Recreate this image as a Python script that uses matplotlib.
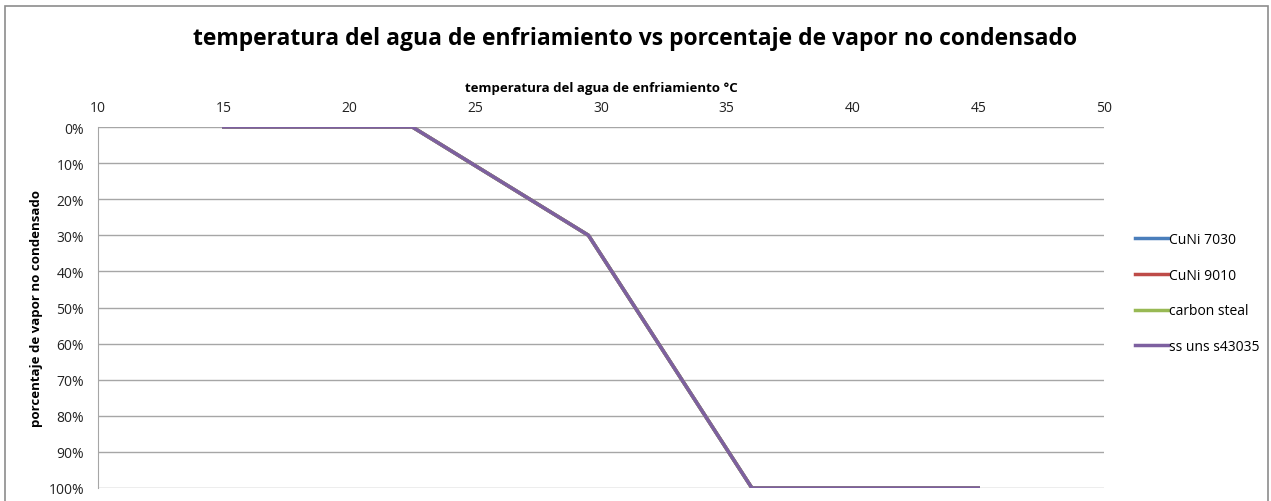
import matplotlib
matplotlib.use("Agg")
import matplotlib.pyplot as plt
from matplotlib.patches import Rectangle
from matplotlib.ticker import PercentFormatter

plt.rcParams['font.family'] = ['Open Sans', 'DejaVu Sans']

# data
temperatura = [15, 22.5, 29.5, 36, 45]
cuni_7030 = [0.0, 0.0, 0.30, 1.0, 1.0]
cuni_9010 = [0.0, 0.0, 0.30, 1.0, 1.0]
carbon_steal = [0.0, 0.0, 0.30, 1.0, 1.0]
ss_uns_s43035 = [0.0, 0.0, 0.30, 1.0, 1.0]

series = [
    ("CuNi 7030", cuni_7030, "#4a7ebb"),
    ("CuNi 9010", cuni_9010, "#be4b48"),
    ("carbon steal", carbon_steal, "#98b954"),
    ("ss uns s43035", ss_uns_s43035, "#7d60a0"),
]

x_ticks = [10, 15, 20, 25, 30, 35, 40, 45, 50]
y_ticks = [0, 0.1, 0.2, 0.3, 0.4, 0.5, 0.6, 0.7, 0.8, 0.9, 1.0]

W, H = 1271, 502
fig = plt.figure(figsize=(W / 100, H / 100), dpi=100)

# outer chart border
fig.patches.append(Rectangle((5 / W, -0.05), (1268 - 5) / W, 1.05 - 7 / H,
                             transform=fig.transFigure, fill=False,
                             edgecolor="#8c8c8c", linewidth=1.2))

ax = fig.add_axes([98 / W, 1 - 489 / H, (1104 - 98) / W, (489 - 128) / H])

for name, vals, color in series:
    ax.plot(temperatura, vals, color=color, linewidth=2.5, label=name,
            solid_joinstyle="round")

ax.set_xlim(10, 50)
ax.set_ylim(1.0, 0.0)
ax.set_xticks(x_ticks)
ax.set_yticks(y_ticks)
ax.yaxis.set_major_formatter(PercentFormatter(1.0, decimals=0))
ax.xaxis.tick_top()
ax.xaxis.set_label_position("top")
ax.tick_params(axis="both", length=0, labelsize=10, colors="#222222")
ax.tick_params(axis="x", pad=9)
ax.tick_params(axis="y", pad=10)

ax.grid(axis="y", color="#a6a6a6", linewidth=1)
for s in ["top", "right", "bottom"]:
    ax.spines[s].set_visible(False)
ax.spines["left"].set_color("#a6a6a6")

ax.set_xlabel("temperatura del agua de enfriamiento °C", fontsize=9.5,
              fontweight="bold", labelpad=6)
ax.set_ylabel("porcentaje de vapor no condensado", fontsize=9.5,
              fontweight="bold", labelpad=4)

fig.text(0.5, 1 - 39 / H, "temperatura del agua de enfriamiento vs porcentaje de vapor no condensado",
         ha="center", va="center", fontsize=16.5, fontweight="bold")

leg = ax.legend(loc="center left", bbox_to_anchor=(1.018, 0.54), frameon=False,
                fontsize=10, handlelength=2.4, handletextpad=0.1,
                labelspacing=1.5)

fig.savefig("out.png", dpi=100)
